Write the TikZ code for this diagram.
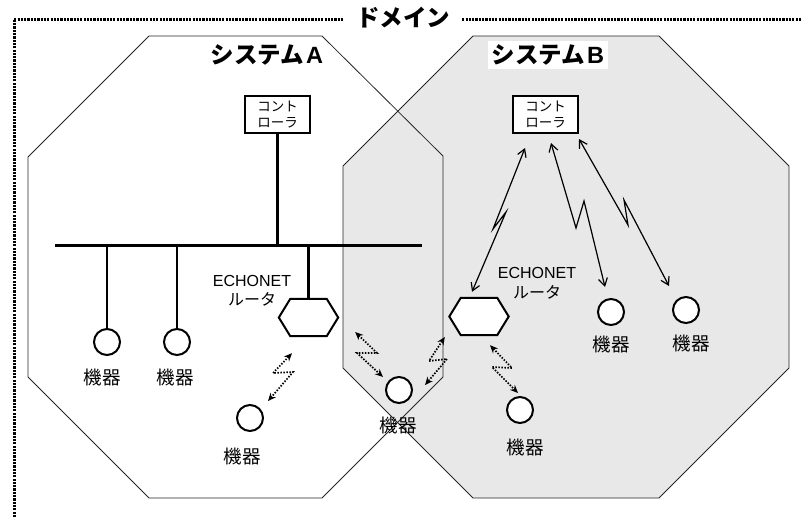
\documentclass[tikz,border=0pt]{standalone}
\usepackage{fontspec}
\setmainfont{Liberation Sans}
\newfontfamily\cjk{Noto Sans CJK JP}
\usetikzlibrary{arrows.meta,calc}
\begin{document}
\begin{tikzpicture}[x=1pt,y=-1pt,
  oct/.style={draw=black!85, line width=0.8pt},
  ctrl/.style={draw, line width=2pt, fill=white, minimum width=65pt, minimum height=37pt, inner sep=0pt, align=center, font=\cjk\fontsize{13.5}{16.5}\selectfont},
  dev/.style={circle, draw, line width=2pt, fill=white, minimum size=26pt, inner sep=0pt},
  devlabel/.style={font=\cjk\fontsize{18.5}{18.5}\selectfont, inner sep=0pt},
  hexbox/.style={minimum width=59pt, minimum height=37pt, inner sep=0pt},
  hexline/.style={draw, line width=2pt, fill=white, line join=miter},
  busline/.style={line width=3pt},
  wire/.style={line width=2.8pt},
  ttl/.style={font=\cjk\bfseries\fontsize{23.5}{23.5}\selectfont, inner sep=0pt},
  rlabel/.style={align=center, font=\fontsize{16}{19.5}\selectfont, inner sep=0pt},
  bolt/.style={line width=1.2pt, {Straight Barb[length=7.5pt,width=9pt]}-{Straight Barb[length=7.5pt,width=9pt]}},
  wbolt/.style={line width=1.7pt, dash pattern=on 1.5pt off 1.5pt, {Stealth[length=8pt,width=7pt]}-{Stealth[length=8pt,width=7pt]}},
  domframe/.style={line width=3pt, dash pattern=on 2.2pt off 1.1pt}
]
\useasboundingbox (0,0) rectangle (802,517);

% system octagons
\fill[gray!18] (473,36) -- (659,36) -- (789,166) -- (789,368) -- (659,498) -- (473,498) -- (343,368) -- (343,166) -- cycle;
\draw[oct] (149,36) -- (322,36) -- (443,156) -- (443,377) -- (322,498) -- (149,498) -- (28,377) -- (28,157) -- cycle;
\draw[oct] (473,36) -- (659,36) -- (789,166) -- (789,368) -- (659,498) -- (473,498) -- (343,368) -- (343,166) -- cycle;

% domain frame
\node[ttl, inner xsep=12pt] (domt) at (403,18) {ドメイン};
\draw[domframe] (14,517) -- (14,19) -- (domt.west |- 0,19);
\draw[domframe] (domt.east |- 0,19) -- (802,19);

% titles
\node[ttl] (sysA) at (267,55) {システム\hspace{2pt}{\rmfamily A}};
\node[ttl, fill=white, inner xsep=4pt, inner ysep=4pt] (sysB) at (548,55) {システム\hspace{2pt}{\rmfamily B}};

% controllers
\node[ctrl] (cA) at (277.5,114.5) {コント\\ローラ};
\node[ctrl] (cB) at (545.5,114.5) {コント\\ローラ};

% bus
\coordinate (busL) at (55,245);
\coordinate (busR) at (422,245);
\draw[busline] (busL) -- (busR);
\draw[wire] (cA.south) -- (cA.south |- busL);

% devices
\node[dev] (dA1) at (107,342) {};
\node[dev] (dA2) at (177,342) {};
\node[dev] (dA3) at (250,418) {};
\node[dev] (dM)  at (399,390) {};
\node[dev] (dB1) at (611,312) {};
\node[dev] (dB2) at (686,310) {};
\node[dev] (dB3) at (520,410) {};

\node[devlabel] (lA1) at (102,377) {機器};
\node[devlabel] (lA2) at (175,377) {機器};
\node[devlabel] (lA3) at (242,456) {機器};
\node[devlabel] (lM)  at (398,425) {機器};
\node[devlabel] (lB1) at (611,344) {機器};
\node[devlabel] (lB2) at (691,343) {機器};
\node[devlabel] (lB3) at (525,447) {機器};

% routers
\node[hexbox] (hA) at (308.5,317.5) {};
\node[hexbox] (hB) at (479,316.5) {};
\draw[wire] (dA1.north |- busL) -- (dA1.north);
\draw[wire] (dA2.north |- busL) -- (dA2.north);
\draw[wire] (hA.north |- busL) -- (hA.north);
\draw[hexline] (hA.west) -- ([xshift=11.5pt]hA.north west) -- ([xshift=-11.5pt]hA.north east) -- (hA.east) -- ([xshift=-11.5pt]hA.south east) -- ([xshift=11.5pt]hA.south west) -- cycle;
\draw[hexline] (hB.west) -- ([xshift=11.5pt]hB.north west) -- ([xshift=-11.5pt]hB.north east) -- (hB.east) -- ([xshift=-11.5pt]hB.south east) -- ([xshift=11.5pt]hB.south west) -- cycle;

\node[rlabel] (eA) at (252,291) {ECHONET\\{\cjk ルータ}};
\node[rlabel] (eB) at (537,283.5) {ECHONET\\{\cjk ルータ}};

% wireless links to controller B
\draw[bolt] ([shift={(-20.5,14)}]cB.south) -- (493,229) -- (506,212) -- ([shift={(-7,-6)}]hB.north);
\draw[bolt] ([shift={(5.5,9)}]cB.south) -- (576,228) -- (584,201) -- ([shift={(-6,-11)}]dB1.north);
\draw[bolt] ([shift={(33.5,5)}]cB.south) -- (628,225) -- (624,200) -- ([shift={(-17,-10)}]dB2.north);

% short-range wireless links
\draw[wbolt] ([shift={(-16.5,17)}]hA.south) -- (273,373) -- (293,372) -- ([shift={(18,-17)}]dA3.center);
\draw[wbolt] ([shift={(17,14.5)}]hA.east) -- (377,353) -- (357,353) -- ([shift={(-16,-13)}]dM.center);
\draw[wbolt] ([shift={(-4.5,20.5)}]hB.west) -- (429,361) -- (447,359) -- ([shift={(26,-5)}]dM.center);
\draw[wbolt] ([shift={(11,10)}]hB.south) -- (512,368) -- (492,367) -- ([shift={(-2,-17)}]dB3.center);
\end{tikzpicture}
\end{document}
